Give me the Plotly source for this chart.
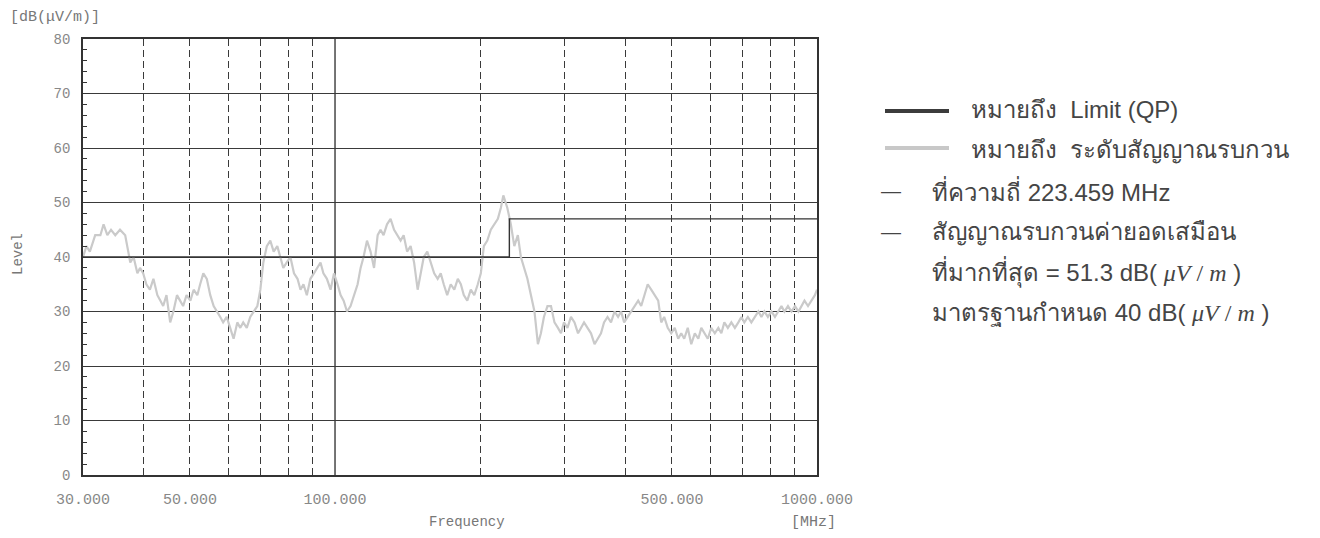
import math
import plotly.graph_objects as go

freq_mhz = [
    30.0, 30.5, 31.0, 31.8, 32.6, 33.1, 33.7, 34.3, 35.0, 35.8,
    36.7, 37.1, 37.6, 38.2, 38.9, 39.4, 40.0, 40.6, 41.3, 42.0,
    42.8, 43.4, 44.0, 44.7, 45.5, 46.2, 47.0, 47.7, 48.4, 49.2,
    50.1, 50.9, 51.8, 52.5, 53.3, 54.2, 55.1, 56.0, 57.0, 57.8,
    58.6, 59.6, 60.6, 61.6, 62.7, 63.6, 64.5, 65.6, 66.7, 67.8,
    69.0, 70.0, 71.0, 72.2, 73.4, 74.6, 75.9, 77.0, 78.1, 79.4,
    80.8, 82.2, 83.6, 84.8, 86.0, 87.4, 88.9, 90.4, 92.0, 93.3,
    94.6, 96.2, 97.9, 99.5, 101.2, 102.7, 104.2, 105.9, 107.7, 109.5,
    111.4, 113.0, 114.6, 116.5, 118.5, 120.5, 122.6, 124.3, 126.1, 128.2,
    130.4, 132.6, 134.9, 136.8, 138.8, 141.1, 143.5, 145.9, 148.4, 150.6,
    152.8, 155.4, 158.0, 160.6, 163.3, 165.7, 168.1, 170.9, 173.8, 176.8,
    179.8, 182.4, 185.0, 188.1, 191.3, 194.5, 197.8, 200.7, 203.6, 207.0,
    210.5, 214.1, 217.7, 220.8, 223.459, 227.8, 231.6, 235.5, 239.5, 243.0,
    246.5, 250.7, 255.0, 259.3, 263.6, 267.4, 271.3, 275.9, 280.6, 285.3,
    290.1, 294.3, 298.6, 303.6, 308.7, 314.0, 319.3, 323.9, 328.6, 334.1,
    339.7, 345.5, 351.3, 356.3, 361.5, 367.6, 373.8, 380.2, 386.6, 392.2,
    398.0, 404.8, 411.6, 418.6, 425.6, 431.8, 438.0, 445.4, 452.9, 460.6,
    468.3, 475.1, 481.9, 490.1, 498.3, 506.8, 515.3, 522.8, 530.3, 539.3,
    548.4, 557.8, 567.2, 575.4, 583.6, 593.5, 603.5, 613.8, 624.1, 633.2,
    642.3, 653.2, 664.2, 675.5, 686.8, 696.7, 706.7, 718.7, 730.8, 743.3,
    755.8, 766.8, 777.8, 791.0, 804.3, 818.0, 831.7, 843.8, 855.9, 870.5,
    885.1, 900.2, 915.3, 928.6, 941.9, 958.0, 974.0, 990.0, 1000.0,
]
level_dbuv = [
    40, 42, 41, 44, 44, 46, 44, 45, 44, 45,
    44, 42, 39, 40, 37, 38, 37, 35, 34, 36,
    33, 32, 31, 33, 28, 30, 33, 32, 31, 33,
    32, 34, 33, 35, 37, 36, 33, 31, 30, 29,
    28, 29, 27, 25, 28, 27, 28, 27, 29, 30,
    31, 34, 39, 42, 43, 41, 42, 40, 38, 39,
    40, 37, 36, 34, 35, 33, 36, 37, 38, 39,
    37, 36, 34, 37, 35, 33, 32, 30, 31, 33,
    35, 38, 40, 43, 41, 38, 44, 45, 44, 46,
    47, 45, 44, 43, 44, 41, 42, 39, 34, 37,
    40, 41, 39, 37, 36, 37, 35, 33, 35, 34,
    36, 35, 33, 32, 34, 33, 35, 37, 42, 43,
    45, 46, 47, 49, 51.3, 49, 46, 42, 44, 40,
    38, 36, 33, 30, 24, 26, 29, 31, 31, 28,
    27, 26, 28, 27, 29, 28, 26, 27, 28, 27,
    26, 24, 25, 26, 28, 29, 28, 30, 29, 30,
    28, 29, 30, 31, 32, 31, 33, 35, 34, 33,
    32, 28, 29, 27, 26, 27, 25, 26, 25, 27,
    24, 26, 25, 27, 26, 25, 27, 26, 27, 26,
    28, 27, 28, 27, 28, 29, 28, 29, 28, 29,
    30, 29, 30, 29, 30, 29, 30, 31, 30, 31,
    30, 31, 30, 31, 32, 31, 32, 33, 34,
]

# limit (QP) line
limit_freq = [30, 230, 230, 1000]
limit_level = [40, 40, 47, 47]

x_tick_vals = [30, 50, 100, 500, 1000]
x_tick_text = ['30.000', '50.000', '100.000', '500.000', '1000.000']
x_dashed_grid = [40, 50, 60, 70, 80, 90, 200, 300, 400, 500, 600, 700, 800, 900]
x_solid_grid = [100]

legend_rows = [
    'หมายถึง  Limit (QP)',
    'หมายถึง  ระดับสัญญาณรบกวน',
]
note_rows = [
    'ที่ความถี่ 223.459 MHz',
    'สัญญาณรบกวนค่ายอดเสมือน',
    'ที่มากที่สุด = 51.3 dB( <span style="font-family:Liberation Serif"><i>μV</i> / <i>m</i></span> )',
    'มาตรฐานกำหนด 40 dB( <span style="font-family:Liberation Serif"><i>μV</i> / <i>m</i></span> )',
]

MONO = 'Liberation Mono, Courier New, monospace'
SANS = 'Liberation Sans, Arial, Noto Sans, sans-serif'
GRID = '#3a3a3a'
TXT = '#454545'

fig = go.Figure()

fig.add_trace(go.Scatter(x=x_solid_grid * 2, y=[0, 80], mode='lines',
                         line=dict(color=GRID, width=1.4), hoverinfo='skip'))
fig.add_trace(go.Scatter(x=freq_mhz, y=level_dbuv, mode='lines',
                         line=dict(color='#cacaca', width=2.2)))
fig.add_trace(go.Scatter(x=limit_freq, y=limit_level, mode='lines',
                         line=dict(color='#333333', width=1.4)))

# the page body has an 8px margin, so the figure is laid out 8px smaller
fig.update_layout(
    width=1312, height=530,
    margin=dict(l=75, r=503, t=31, b=63),
    paper_bgcolor='white', plot_bgcolor='white',
    showlegend=False,
    xaxis=dict(type='log', range=[math.log10(30), math.log10(1000)],
               tickvals=x_tick_vals, ticktext=x_tick_text, showgrid=False,
               showline=True, mirror=True, linecolor='#333', linewidth=1.6,
               ticks='', ticklabelstandoff=9,
               tickfont=dict(family=MONO, size=15, color='#888'),
               minor=dict(tickvals=x_dashed_grid, showgrid=True, gridcolor=GRID,
                          griddash='7px,4px', gridwidth=1.2, ticks='')),
    yaxis=dict(range=[0, 80], dtick=10, showgrid=True, gridcolor=GRID, gridwidth=1.3,
               showline=True, mirror=True, linecolor='#333', linewidth=1.6,
               ticks='inside', ticklen=7, tickcolor='#333', ticklabelstandoff=8,
               tickfont=dict(family=MONO, size=14, color='#888'), zeroline=False,
               minor=dict(dtick=2, ticks='inside', ticklen=4, tickcolor='#333',
                          showgrid=False)),
)


def px_x(px):
    return (px - 83) / 734


def px_y(py):
    return (475 - py) / 436


annotations = [
    dict(text='[dB(μV/m)]', x=px_x(55), y=px_y(18), font=dict(family=MONO, size=15, color='#777')),
    dict(text='Level', x=px_x(18), y=px_y(254), textangle=-90, font=dict(family=MONO, size=14, color='#777')),
    dict(text='Frequency', x=px_x(467), y=px_y(522), font=dict(family=MONO, size=14, color='#777')),
    dict(text='[MHz]', x=px_x(813), y=px_y(522), font=dict(family=MONO, size=15, color='#777')),
]
for txt, py in zip(legend_rows, [110, 150]):
    annotations.append(dict(text=txt, x=px_x(969), y=px_y(py), xanchor='left',
                            font=dict(family=SANS, size=24, color=TXT)))
for txt, py in zip(note_rows, [191, 232, 272, 313]):
    annotations.append(dict(text=txt, x=px_x(930), y=px_y(py), xanchor='left',
                            font=dict(family=SANS, size=24, color=TXT)))
for py in [191, 232]:
    annotations.append(dict(text='—', x=px_x(891), y=px_y(py),
                            font=dict(family=SANS, size=20, color=TXT)))
for a in annotations:
    a.update(xref='paper', yref='paper', showarrow=False, yanchor='middle')
    a.setdefault('xanchor', 'center')
fig.update_layout(annotations=annotations)

fig.add_shape(type='line', xref='paper', yref='paper', x0=px_x(885), x1=px_x(949),
              y0=px_y(111), y1=px_y(111), line=dict(color='#3c3c3c', width=4))
fig.add_shape(type='line', xref='paper', yref='paper', x0=px_x(885), x1=px_x(949),
              y0=px_y(148), y1=px_y(148), line=dict(color='#c8c8c8', width=4))

fig.write_html("out.html")
